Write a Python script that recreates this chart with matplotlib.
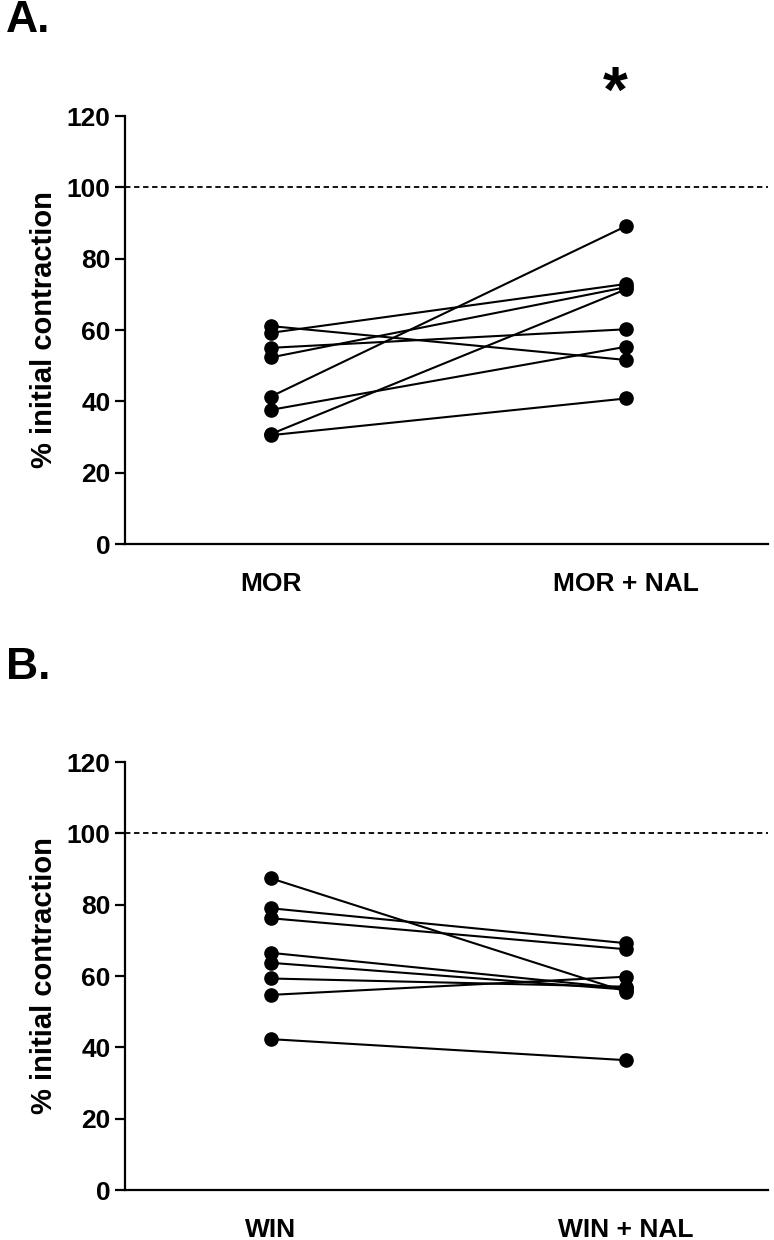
import matplotlib
matplotlib.use("Agg")
import matplotlib.pyplot as plt

plt.rcParams['font.family'] = ['Liberation Sans', 'DejaVu Sans']
plt.rcParams['font.weight'] = 'bold'

cats_a = ["MOR", "MOR + NAL"]
a_before = [61.1, 59.2, 55.0, 52.3, 41.3, 37.6, 30.8, 30.5]
a_after = [51.6, 72.9, 60.2, 72.0, 89.1, 55.3, 71.4, 40.8]
cats_b = ["WIN", "WIN + NAL"]
b_before = [87.4, 79.0, 76.2, 66.5, 63.7, 59.3, 54.7, 42.3]
b_after = [55.6, 69.2, 67.5, 56.5, 56.2, 57.0, 59.8, 36.4]
yticks = [0, 20, 40, 60, 80, 100, 120]

W, H = 774, 1240
fig = plt.figure(figsize=(W/100, H/100), dpi=100)

def panel(top, bottom, cats, before, after, letter, star):
    ax = fig.add_axes([125/W, 1-bottom/H, (768-125)/W, (bottom-top)/H])
    for b, a in zip(before, after):
        ax.plot([0, 1], [b, a], color='black', lw=1.5, marker='o', ms=9.5,
                markerfacecolor='black', markeredgecolor='black')
    ax.axhline(100, color='black', lw=1.3, ls=(0, (3, 2)))
    ax.set_ylim(0, 120)
    ax.set_xlim(-0.41, 1.40)
    ax.set_yticks(yticks)
    ax.set_xticks([0, 1])
    ax.set_xticklabels(cats)
    ax.tick_params(labelsize=19, width=1.6, length=7)
    ax.tick_params(axis='x', length=0, pad=20)
    for lab in ax.get_xticklabels() + ax.get_yticklabels():
        lab.set_fontweight('bold')
    for s in ['top', 'right']:
        ax.spines[s].set_visible(False)
    for s in ['left', 'bottom']:
        ax.spines[s].set_linewidth(1.6)
    ax.set_ylabel("% initial contraction", fontsize=21, fontweight='bold', labelpad=6)
    fig.text(6/W, 1-(top-95)/H, letter, fontsize=32, fontweight='bold', va='center', ha='left')
    if star:
        ax.text(0.97, 126, "*", fontsize=46, fontweight='bold', ha='center', va='center')
    return ax

panel(116, 544, cats_a, a_before, a_after, "A.", True)
panel(762, 1190, cats_b, b_before, b_after, "B.", False)

fig.savefig("out.png", dpi=100)
